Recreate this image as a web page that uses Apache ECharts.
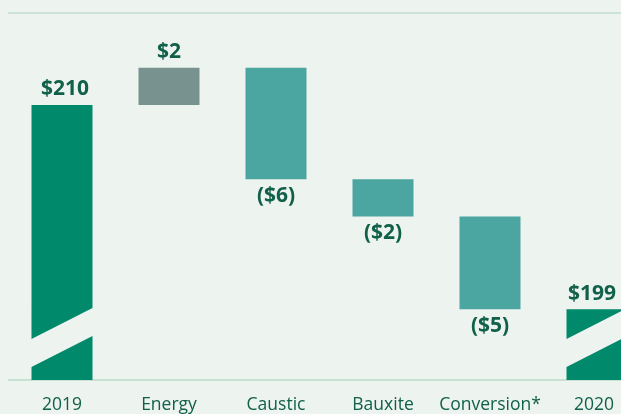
<!DOCTYPE html>
<html>
<head>
    <meta charset="utf-8" />
    <title></title>
    <script src="https://cdn.jsdelivr.net/npm/echarts@6/dist/echarts.min.js"></script>
    <style>
        html, body {
            width: 100%;
            height: 100%;
            margin: 0px;
            padding: 0px;
            background: #edf3ef;
        }
        #main {
            width: 621px;
            height: 414px;
        }
    </style>
</head>
<body>
    <div id="main"></div>
<script type="text/javascript">
    // waterfall, $ per tonne
    var categories = ['2019', 'Energy', 'Caustic', 'Bauxite', 'Conversion*', '2020'];
    var changes = [210, 2, -6, -2, -5, 199];
    var kinds = ['total', 'up', 'down', 'down', 'down', 'total'];
    var valueLabels = ['$210', '$2', '($6)', '($2)', '($5)', '$199'];

    var yMin = 195.2, yMax = 215;

    // build [index, low, high, kind] from running total
    var bars = [];
    var running = 0;
    for (var i = 0; i < changes.length; i++) {
        if (kinds[i] == 'total') {
            running = changes[i];
            bars.push([i, yMin, running, i]);
        } else {
            var next = running + changes[i];
            bars.push([i, Math.min(running, next), Math.max(running, next), i]);
            running = next;
        }
    }

    var colors = { total: '#00896a', up: '#77928f', down: '#4ba5a1' };
    var textColor = '#11604a';
    var last = categories.length - 1;

    function renderItem(params, api) {
        var idx = api.value(3);
        var kind = kinds[idx];
        var top = api.coord([api.value(0), api.value(2)]);
        var bot = api.coord([api.value(0), api.value(1)]);
        var w = api.size([1, 0])[0] * 0.57;
        var x = top[0] - w / 2;
        var children = [];
        if (kind == 'total') {
            // axis break cut
            var hiLeft = 41, loLeft = 13, rise = 31;
            var b = bot[1];
            children.push({
                type: 'polygon',
                shape: { points: [[x, top[1]], [x + w, top[1]], [x + w, b - hiLeft - rise], [x, b - hiLeft]] },
                style: { fill: colors.total }
            });
            children.push({
                type: 'polygon',
                shape: { points: [[x, b - loLeft], [x + w, b - loLeft - rise], [x + w, b], [x, b]] },
                style: { fill: colors.total }
            });
        } else {
            children.push({
                type: 'rect',
                shape: { x: x, y: top[1], width: w, height: bot[1] - top[1] },
                style: { fill: colors[kind] }
            });
        }
        var below = kind == 'down';
        // last label pulled in so it stays inside the frame
        var dx = idx == last ? -5 : (idx == 0 ? 3 : 0);
        children.push({
            type: 'text',
            style: {
                text: valueLabels[idx],
                x: top[0] + dx,
                y: below ? bot[1] + 6 : top[1] - 5,
                align: 'center',
                verticalAlign: below ? 'top' : 'bottom',
                fill: textColor,
                font: 'bold 21px "Open Sans"'
            }
        });
        return { type: 'group', children: children };
    }

    var axisData = categories.map(function (c, i) {
        if (i == last) return { value: c, textStyle: { padding: [0, 6, 0, 0] } };
        return c;
    });

    var myChart = echarts.init(document.getElementById('main'));
    myChart.setOption({
        backgroundColor: '#edf3ef',
        animation: false,
        grid: { left: 8.5, right: -29.5, top: 12, bottom: 34, outerBoundsMode: 'none', containLabel: false },
        graphic: [{
            type: 'line',
            shape: { x1: 8, y1: 13, x2: 621, y2: 13 },
            style: { stroke: '#cde1dd', lineWidth: 2 }
        }],
        xAxis: {
            type: 'category',
            data: axisData,
            axisLine: { lineStyle: { color: '#bcdcc9', width: 1.5 } },
            axisTick: { show: false },
            axisLabel: { color: textColor, fontSize: 17.5, fontFamily: 'Open Sans', margin: 16, interval: 0 }
        },
        yAxis: {
            type: 'value',
            min: yMin,
            max: yMax,
            show: false,
            splitLine: { show: false }
        },
        series: [{
            type: 'custom',
            renderItem: renderItem,
            clip: false,
            encode: { x: 0, y: [1, 2] },
            data: bars
        }]
    });

    window.addEventListener('resize', function () {
        myChart.resize();
    });
</script>
</body>
</html>
